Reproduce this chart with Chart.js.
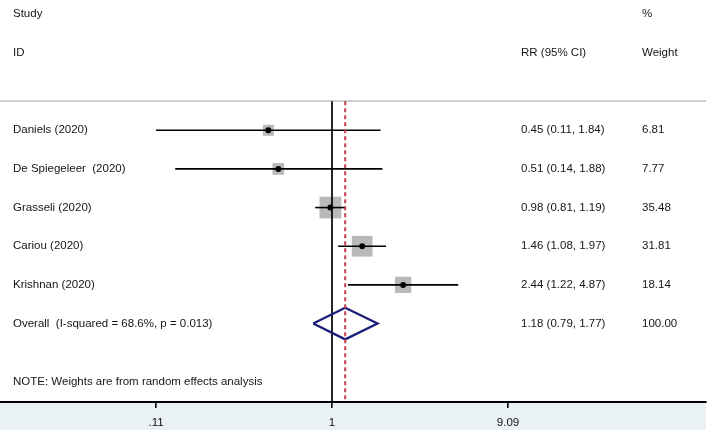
<!DOCTYPE html>
<html>
<head>
<meta charset="utf-8">
<script src="https://cdn.jsdelivr.net/npm/chart.js@4/dist/chart.umd.min.js"></script>
<style>
html,body{margin:0;padding:0;background:#fff;}
#wrap{width:708px;height:430px;}
</style>
</head>
<body>
<div id="wrap"><canvas id="c" width="708" height="430"></canvas></div>
<script>
// ---- data ----
const studies = ["Daniels (2020)", "De Spiegeleer  (2020)", "Grasseli (2020)", "Cariou (2020)", "Krishnan (2020)"];
const rr      = [0.45, 0.51, 0.98, 1.46, 2.44];
const lower   = [0.11, 0.14, 0.81, 1.08, 1.22];
const upper   = [1.84, 1.88, 1.19, 1.97, 4.87];
const weights = [6.81, 7.77, 35.48, 31.81, 18.14];
const overallLabel = "Overall  (I-squared = 68.6%, p = 0.013)";
const overall = {rr: 1.18, lower: 0.79, upper: 1.77, weight: "100.00"};
const tickValues = [0.11, 1, 9.09];
const tickLabels = [".11", "1", "9.09"];
const noteText = "NOTE: Weights are from random effects analysis";

// ---- layout helpers (styling) ----
const overallRow = studies.length;
const FONT = "11.5px 'Liberation Sans', Arial, sans-serif";
const TXT = "#151515";
const fmt = v => v.toFixed(2);
const ciText = (r, l, u) => fmt(r) + " (" + fmt(l) + ", " + fmt(u) + ")";

const datasets = [];
// boxes
datasets.push({
  label: "box", order: 5,
  data: rr.map((v, i) => ({x: v, y: i})),
  pointStyle: "rect",
  backgroundColor: "#b9b9b9", borderWidth: 0,
  pointRadius: ctx => (2.7 + 3.2 * Math.sqrt(weights[ctx.dataIndex])) / Math.SQRT2,
  showLine: false
});
// CI lines
rr.forEach((v, i) => {
  datasets.push({
    label: "ci" + i, order: 4,
    data: [{x: lower[i], y: i}, {x: upper[i], y: i}],
    showLine: true, borderColor: "#000", borderWidth: 1.6, pointRadius: 0
  });
});
// dots
datasets.push({
  label: "dot", order: 1,
  data: rr.map((v, i) => ({x: v, y: i})),
  pointStyle: "circle", backgroundColor: "#000", borderWidth: 0, pointRadius: 3,
  showLine: false
});
// null line at 1
datasets.push({
  label: "null", order: 3,
  data: [{x: 1, y: -0.75}, {x: 1, y: 7.1}],
  showLine: true, borderColor: "#000", borderWidth: 1.7, pointRadius: 0
});
// overall dashed
datasets.push({
  label: "ovline", order: 2,
  data: [{x: overall.rr, y: -0.75}, {x: overall.rr, y: 7.1}],
  showLine: true, borderColor: "#c0404e", borderWidth: 2, borderDash: [4, 3], pointRadius: 0
});
// diamond
const dh = 0.41;
datasets.push({
  label: "diamond", order: 2,
  data: [
    {x: overall.lower, y: overallRow},
    {x: overall.rr, y: overallRow - dh},
    {x: overall.upper, y: overallRow},
    {x: overall.rr, y: overallRow + dh},
    {x: overall.lower, y: overallRow}
  ],
  showLine: true, borderColor: "#1c1f7a", borderWidth: 2.3, pointRadius: 0,
  borderJoinStyle: "miter", fill: false
});

const textPlugin = {
  id: "forestText",
  beforeDraw(chart) {
    const {ctx, chartArea} = chart;
    ctx.save();
    ctx.fillStyle = "#e9f1f4";
    ctx.fillRect(chartArea.left, chartArea.bottom, chartArea.right - chartArea.left, chart.height - chartArea.bottom);
    const ys = chart.scales.y;
    const yl = ys.getPixelForValue(-0.76);
    ctx.strokeStyle = "#cfcfcf";
    ctx.lineWidth = 2;
    ctx.beginPath();
    ctx.moveTo(chartArea.left, yl);
    ctx.lineTo(chartArea.right, yl);
    ctx.stroke();
    ctx.restore();
  },
  afterDraw(chart) {
    const {ctx} = chart;
    const ys = chart.scales.y;
    ctx.save();
    ctx.font = FONT;
    ctx.fillStyle = TXT;
    ctx.textBaseline = "middle";
    ctx.textAlign = "left";
    const xL = 13, xRR = 521, xW = 642;
    ctx.fillText("Study", xL, ys.getPixelForValue(-3));
    ctx.fillText("ID", xL, ys.getPixelForValue(-2));
    ctx.fillText("%", xW, ys.getPixelForValue(-3));
    ctx.fillText("RR (95% CI)", xRR, ys.getPixelForValue(-2));
    ctx.fillText("Weight", xW, ys.getPixelForValue(-2));
    studies.forEach((s, i) => {
      const y = ys.getPixelForValue(i);
      ctx.fillText(s, xL, y);
      ctx.fillText(ciText(rr[i], lower[i], upper[i]), xRR, y);
      ctx.fillText(fmt(weights[i]), xW, y);
    });
    const yo = ys.getPixelForValue(overallRow);
    ctx.fillText(overallLabel, xL, yo);
    ctx.fillText(ciText(overall.rr, overall.lower, overall.upper), xRR, yo);
    ctx.fillText(overall.weight, xW, yo);
    ctx.fillText(noteText, xL, ys.getPixelForValue(6.5));
    ctx.restore();
  }
};

new Chart(document.getElementById("c"), {
  type: "scatter",
  data: {datasets},
  options: {
    responsive: false,
    animation: false,
    devicePixelRatio: 1,
    layout: {autoPadding: false, padding: {left: 0, right: 2, top: 0, bottom: 0}},
    plugins: {legend: {display: false}, tooltip: {enabled: false}},
    scales: {
      x: {
        type: "logarithmic",
        position: "bottom",
        min: 0.01555, max: 108.9,
        afterBuildTicks: s => { s.ticks = tickValues.map(v => ({value: v})); },
        afterFit: s => { s.height = 28; },
        ticks: {
          autoSkip: false, maxRotation: 0, padding: 8,
          color: "#111", font: {family: "'Liberation Sans', Arial, sans-serif", size: 11.5},
          callback: (v, i) => tickLabels[i]
        },
        grid: {display: true, drawOnChartArea: false, drawTicks: true, tickLength: 6, color: "#000", lineWidth: 1.6},
        border: {display: true, color: "#000", width: 2}
      },
      y: {
        type: "linear", display: false, reverse: true,
        min: -3.37, max: 7.03
      }
    }
  },
  plugins: [textPlugin]
});
</script>
</body>
</html>
